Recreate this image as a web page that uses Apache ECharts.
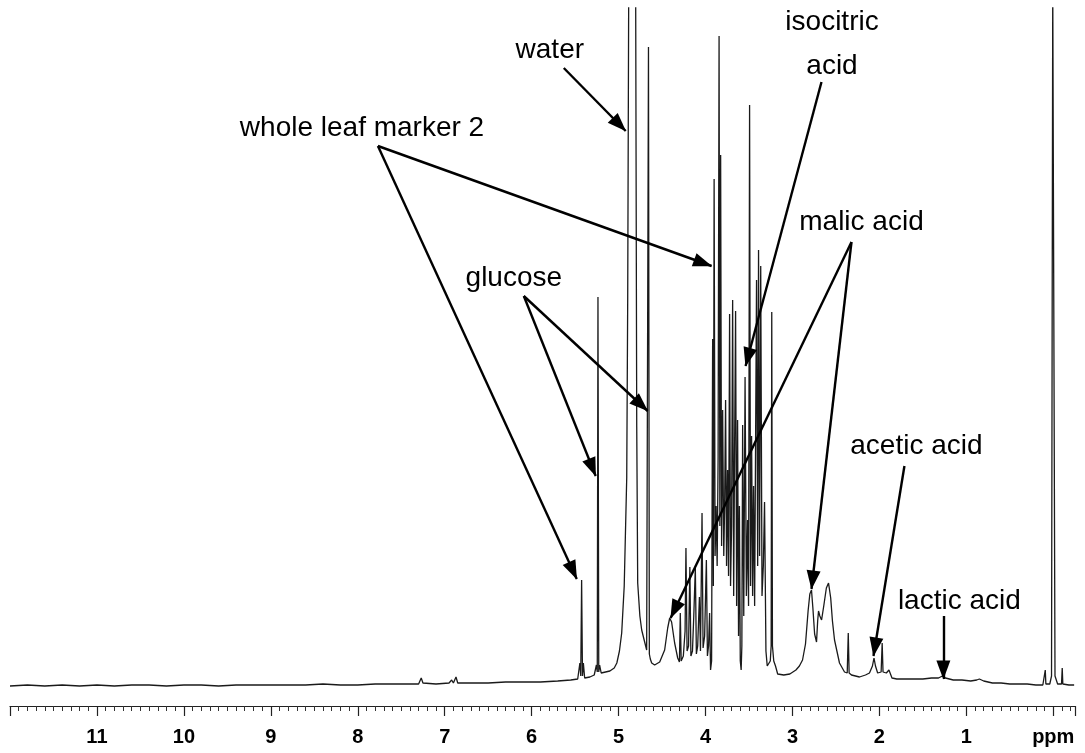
<!DOCTYPE html>
<html><head><meta charset="utf-8">
<script src="https://cdn.jsdelivr.net/npm/echarts@6/dist/echarts.min.js"></script>
<style>html,body{margin:0;padding:0;background:#fff}#c{width:1085px;height:753px}</style>
</head><body><div id="c"></div>
<script>
// ---- spectrum values: [chemical shift (ppm), intensity] ----
const baselineLeft = [
 [12.00,20],[11.80,21],[11.60,20],[11.40,21],[11.20,20],[11.00,21],[10.80,20],[10.60,21],[10.40,21],[10.20,20],
 [10.00,21],[9.80,21],[9.60,20],[9.40,21],[9.20,21],[9.00,21],[8.80,21],[8.60,21],[8.40,22],[8.20,21],
 [8.00,21],[7.80,22],[7.60,22],[7.45,22],[7.30,22],[7.27,28],[7.25,23],[7.10,22],[6.95,23],[6.92,26],
 [6.90,23],[6.87,29],[6.85,23],[6.70,23],[6.50,23],[6.30,24],[6.10,24],[5.90,24],[5.70,25],[5.55,26]
];
const sugarWaterRegion = [
 [5.47,27],[5.445,43],[5.435,30],[5.425,126],[5.415,30],[5.405,43],[5.39,28],[5.33,29],[5.28,31],[5.255,41],
 [5.245,34],[5.237,409],[5.228,34],[5.218,41],[5.20,33],[5.15,34],[5.10,35],[5.05,38],[5.02,43],[4.99,55],
 [4.964,73],[4.935,120],[4.906,229],[4.895,406],[4.884,700],[4.87,760],[4.82,760],[4.803,700],[4.791,279],[4.78,123],
 [4.755,90],[4.734,76],[4.70,64],[4.677,56],[4.665,54],[4.656,659],[4.646,52],[4.635,47],[4.619,43],[4.585,41],
 [4.527,44],[4.47,56],[4.435,78],[4.412,88],[4.39,84],[4.355,63],[4.32,48],[4.30,44]
];
const clusterRegion = [
 [4.29,93],[4.28,45],[4.255,50],[4.235,75],[4.225,158],[4.212,55],[4.195,60],[4.18,139],[4.168,50],[4.15,55],
 [4.135,90],[4.117,138],[4.105,52],[4.09,60],[4.07,109],[4.058,55],[4.04,193],[4.028,58],[4.01,70],[3.99,146],
 [3.978,50],[3.965,60],[3.953,93],[3.942,36],[3.93,45],[3.918,367],[3.910,120],[3.901,527],[3.890,150],[3.878,200],
 [3.866,140],[3.855,250],[3.844,670],[3.835,180],[3.826,551],[3.815,160],[3.803,296],[3.790,150],[3.780,200],[3.769,306],
 [3.758,140],[3.746,236],[3.735,130],[3.723,392],[3.712,120],[3.700,180],[3.688,406],[3.676,110],[3.666,250],[3.654,395],
 [3.642,100],[3.631,286],[3.620,70],[3.610,200],[3.600,45],[3.590,36],[3.582,60],[3.573,281],[3.560,90],[3.545,329],
 [3.530,110],[3.516,186],[3.505,100],[3.493,601],[3.482,120],[3.470,270],[3.458,110],[3.447,220],[3.435,100],[3.425,250],
 [3.413,426],[3.400,140],[3.390,456],[3.378,150],[3.365,440],[3.350,110],[3.335,140],[3.321,204],[3.305,55],[3.290,40],
 [3.275,38],[3.255,45],[3.245,60],[3.238,394],[3.230,60],[3.215,45],[3.195,40],[3.17,32]
];
const acidRegion = [
 [3.10,31],[3.03,32],[2.96,36],[2.92,40],[2.884,46],[2.85,62],[2.82,95],[2.80,112],[2.781,116],[2.765,98],
 [2.745,72],[2.723,64],[2.71,85],[2.70,95],[2.685,90],[2.665,86],[2.64,100],[2.61,118],[2.585,123],[2.56,108],
 [2.54,85],[2.516,66],[2.459,43],[2.401,34],[2.37,33],[2.358,73],[2.348,33],[2.321,31],[2.229,29],[2.16,31],
 [2.114,33],[2.08,40],[2.062,48],[2.045,40],[2.02,33],[1.98,34],[1.968,63],[1.958,34],[1.92,33],[1.89,36],
 [1.873,37],[1.855,28],[1.80,27],[1.70,27],[1.60,27],[1.50,27],[1.40,28],[1.32,28],[1.275,30],[1.24,28],
 [1.15,26],[1.05,26],[0.95,25],[0.88,26],[0.85,27],[0.80,25],[0.70,23],[0.60,23],[0.50,22],[0.40,22],
 [0.30,22],[0.20,21],[0.12,21],[0.10,22],[0.092,36],[0.085,22],[0.04,22],[0.02,30],[0.006,720],[-0.004,720],
 [-0.02,30],[-0.05,22],[-0.095,22],[-0.103,38],[-0.11,22],[-0.18,21],[-0.24,21]
];

// ---- axis tick labels ----
const tickValues = [11,10,9,8,7,6,5,4,3,2,1,0];
const tickLabels = ['11','10','9','8','7','6','5','4','3','2','1','ppm'];

// ---- annotation texts and the peaks they point at (ppm, intensity) ----
const annotationTexts = ['water','whole leaf marker 2','isocitric\nacid','glucose','malic acid','acetic acid','lactic acid'];
const annotationAnchors = [[5.791,656],[7.951,578],[2.545,662],[6.205,428],[2.206,484],[1.574,260],[1.080,105]];
const arrowFrom = [[5.630,638],[7.768,560],[7.768,560],[6.090,410],[6.090,410],[2.666,624],[2.321,464],[2.321,464],[1.712,240],[1.264,90]];
const arrowTo   = [[4.918,575],[3.930,440],[5.481,127],[5.263,230],[4.665,295],[3.539,340],[4.401,88],[2.781,117],[2.068,50],[1.264,27]];

const spectrum = baselineLeft.concat(sugarWaterRegion, clusterRegion, acidRegion);
const FONT = '"Liberation Sans", Arial, Helvetica, sans-serif';

const chart = echarts.init(document.getElementById('c'), null, {renderer:'canvas'});
chart.setOption({
  animation:false,
  backgroundColor:'#ffffff',
  grid:{left:10,right:10,top:8,bottom:47,containLabel:false},
  xAxis:{
    type:'value', min:-0.25, max:12, inverse:true, splitNumber:12,
    axisLine:{show:true,onZero:false,lineStyle:{color:'#222',width:1.2}},
    axisTick:{show:true,inside:false,length:10,lineStyle:{color:'#222',width:1.2}},
    minorTick:{show:true,splitNumber:10,length:5,lineStyle:{color:'#333',width:1}},
    splitLine:{show:false}, minorSplitLine:{show:false},
    axisLabel:{
      margin:21, fontSize:20, fontWeight:'bold', color:'#000', fontFamily:FONT,
      showMinLabel:true, showMaxLabel:true,
      formatter:function(v){
        const i = tickValues.findIndex(t => Math.abs(t - v) < 1e-6);
        return i >= 0 ? tickLabels[i] : '';
      }
    }
  },
  yAxis:{type:'value',min:0,max:698,show:false},
  series:[
    {
      type:'line', data:spectrum, showSymbol:false, symbol:'none', clip:true,
      lineStyle:{color:'#1a1a1a',width:1.3},
      emphasis:{disabled:true},
      markLine:{
        silent:true, animation:false,
        symbol:['none','triangle'], symbolSize:[14,19], symbolOffset:[[0,0],[0,9]],
        lineStyle:{color:'#000',width:2.4,type:'solid'},
        label:{show:false},
        emphasis:{disabled:true},
        data: arrowFrom.map((f,i) => [{coord:f},{coord:arrowTo[i]}])
      }
    },
    {
      type:'scatter', symbol:'circle', symbolSize:2, itemStyle:{color:'rgba(255,255,255,0)'}, silent:true,
      emphasis:{disabled:true},
      labelLayout:{hideOverlap:false},
      data: annotationTexts.map((t,i) => ({name:t, value:annotationAnchors[i]})),
      label:{show:true, position:'inside', formatter:'{b}', fontSize:28, lineHeight:44,
             color:'#000', opacity:1, textBorderWidth:0, fontFamily:FONT}
    }
  ]
});
</script></body></html>
